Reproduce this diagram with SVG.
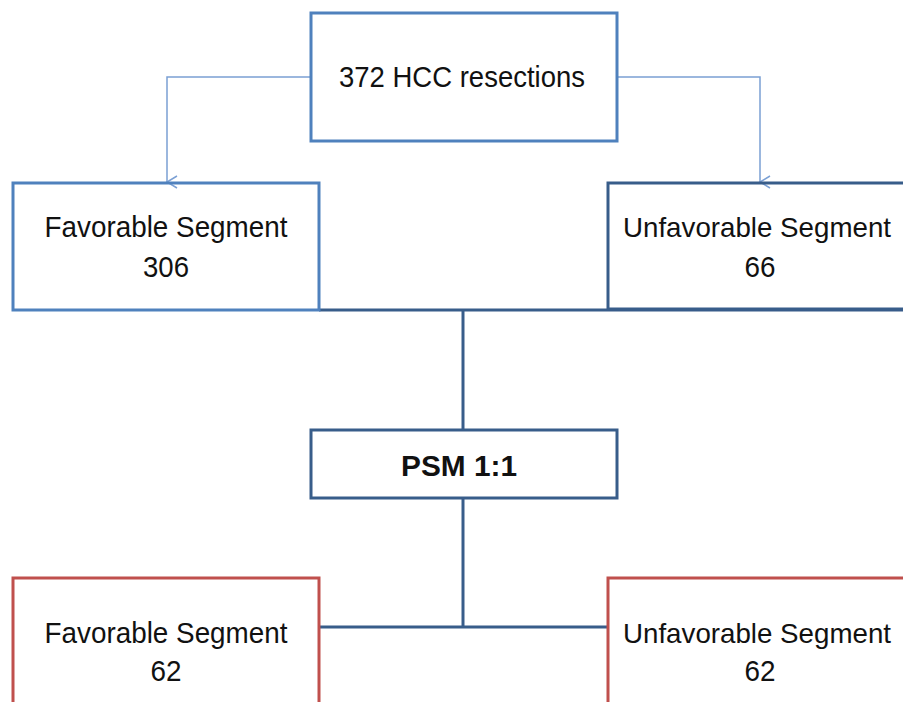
<svg xmlns="http://www.w3.org/2000/svg" width="903" height="702" viewBox="0 0 903 702">
<defs>
<style>
.lb{fill:none;stroke:#4F81BD;stroke-width:3}
.db{fill:none;stroke:#385D8A;stroke-width:3}
.rd{fill:none;stroke:#C0504D;stroke-width:3}
.t{font-family:"Liberation Sans",Arial,sans-serif;font-size:30px;fill:#111;text-anchor:middle}
.s{font-size:28px}
.b{font-weight:bold}
.arr{fill:none;stroke:#7BA0D4;stroke-width:1.5}
.con{fill:none;stroke:#385D8A;stroke-width:3}
</style>
<marker id="ah" markerWidth="14" markerHeight="14" refX="7" refY="12" orient="auto" markerUnits="userSpaceOnUse" viewBox="0 0 14 14">
<path d="M1,2 L7,12 L13,2" fill="none" stroke="#7BA0D4" stroke-width="1.5"/>
</marker>
</defs>
<rect width="903" height="702" fill="#fff"/>
<g id="connectors">
<path class="arr" d="M311,77 H167 V182" marker-end="url(#ah)"/>
<path class="arr" d="M617,77 H760 V182" marker-end="url(#ah)"/>
<path class="con" d="M319,310 H903"/>
<path class="con" d="M463,310 V430"/>
<path class="con" d="M463,498 V627"/>
<path class="con" d="M319,627 H608"/>
</g>
<g id="n_total">
<rect class="lb" x="311" y="13" width="306" height="128"/>
<text class="t" x="462" y="87" textLength="246" lengthAdjust="spacingAndGlyphs">372 HCC resections</text>
</g>
<g id="n_fav">
<rect class="lb" x="13" y="183" width="306" height="127"/>
<text class="t" x="166" y="237" textLength="243" lengthAdjust="spacingAndGlyphs">Favorable Segment</text>
<text class="t" x="166" y="277" textLength="46" lengthAdjust="spacingAndGlyphs">306</text>
</g>
<g id="n_unfav">
<rect class="db" x="608" y="183" width="300" height="126"/>
<text class="t s" x="757" y="237" textLength="268" lengthAdjust="spacingAndGlyphs">Unfavorable Segment</text>
<text class="t" x="760" y="277" textLength="31" lengthAdjust="spacingAndGlyphs">66</text>
</g>
<g id="n_psm">
<rect class="db" x="311" y="430" width="306" height="68"/>
<text class="t b" x="459" y="476" textLength="116" lengthAdjust="spacingAndGlyphs">PSM 1:1</text>
</g>
<g id="n_fav62">
<rect class="rd" x="13" y="578" width="306" height="130"/>
<text class="t" x="166" y="643" textLength="243" lengthAdjust="spacingAndGlyphs">Favorable Segment</text>
<text class="t" x="166" y="681" textLength="31" lengthAdjust="spacingAndGlyphs">62</text>
</g>
<g id="n_unfav62">
<rect class="rd" x="608" y="578" width="300" height="130"/>
<text class="t s" x="757" y="643" textLength="268" lengthAdjust="spacingAndGlyphs">Unfavorable Segment</text>
<text class="t" x="760" y="681" textLength="31" lengthAdjust="spacingAndGlyphs">62</text>
</g>
</svg>
